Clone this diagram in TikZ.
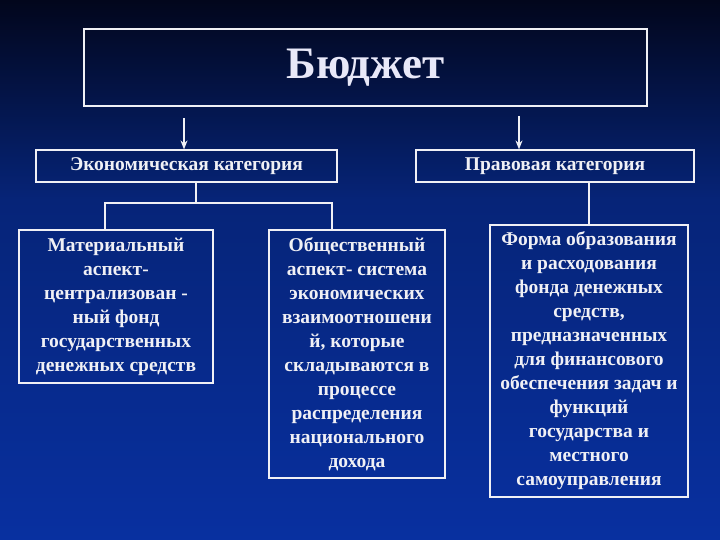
\documentclass[tikz,border=0pt]{standalone}
\usepackage{fontspec}
\setmainfont{Liberation Serif}
\usetikzlibrary{arrows.meta}
\definecolor{bgtop}{RGB}{2,6,28}
\definecolor{bgmid}{RGB}{6,36,120}
\definecolor{bgbot}{RGB}{8,48,160}
\definecolor{txt}{RGB}{240,240,245}
\tikzset{
  box/.style={draw=txt, line width=1.2pt, inner sep=1pt, text=txt, font=\bfseries\fontsize{19.5}{24}\selectfont, align=center},
  conn/.style={draw=txt, line width=1.2pt},
  arr/.style={conn, -{Stealth[length=9pt,width=7pt]}}
}
\begin{document}
\begin{tikzpicture}[x=1pt,y=-1pt]
\useasboundingbox (0,0) rectangle (720,540);
\shade[top color=bgtop, bottom color=bgmid] (0,0) rectangle (720,200);
\shade[top color=bgmid, bottom color=bgbot] (0,200) rectangle (720,540);
\node[box, minimum width=563, minimum height=77, font=\bfseries\fontsize{45}{50}\selectfont, text={rgb,255:red,232;green,232;blue,248}] (title) at (365.5,67.5) {Бюджет};
\node[box, minimum width=301, minimum height=32] (econ) at (186.5,166) {Экономическая категория};
\node[box, minimum width=278, minimum height=32] (legal) at (555,166) {Правовая категория};
\node[box, minimum width=194, minimum height=153] (mat) at (116,306.5) {Материальный\\аспект-\\централизован -\\ный фонд\\государственных\\денежных средств};
\node[box, minimum width=176, minimum height=248] (soc) at (357,354) {Общественный\\аспект- система\\экономических\\взаимоотношени\\й, которые\\складываются в\\процессе\\распределения\\национального\\дохода};
\node[box, minimum width=198, minimum height=272] (form) at (589,361) {Форма образования\\и расходования\\фонда денежных\\средств,\\предназначенных\\для финансового\\обеспечения задач и\\функций\\государства и\\местного\\самоуправления};
\coordinate (a1) at (184,118);
\coordinate (a2) at (519,116);
\draw[arr] (a1) -- (a1 |- econ.north);
\draw[arr] (a2) -- (a2 |- legal.north);
\coordinate (jm) at (196,203);
\coordinate (jl) at (105,203);
\coordinate (jr) at (332,203);
\draw[conn] (jm |- econ.south) -- (jm);
\draw[conn] (jl |- mat.north) -- (jl) -- (jr) -- (jr |- soc.north);
\draw[conn] (form.north |- legal.south) -- (form.north);
\end{tikzpicture}
\end{document}
